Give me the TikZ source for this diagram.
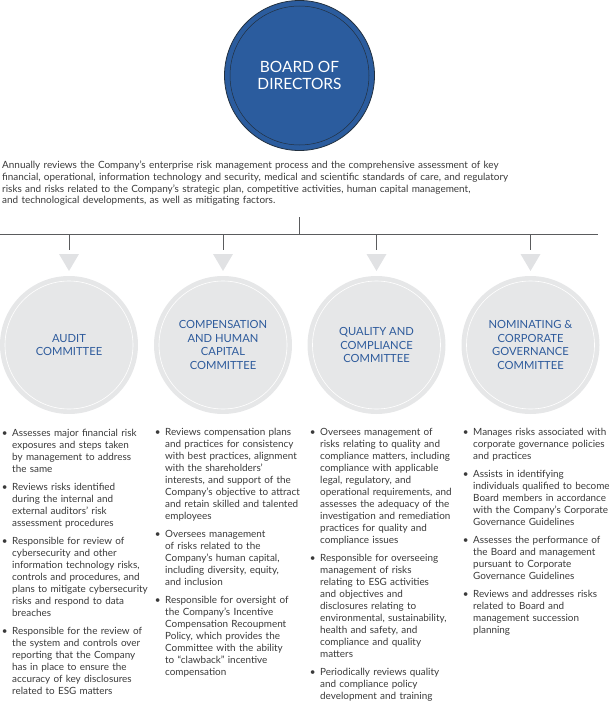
\documentclass[tikz,border=0pt]{standalone}
\usepackage{fontspec}
\setmainfont{Lato}
\definecolor{boardblue}{HTML}{2B5C9E}
\definecolor{ringdark}{HTML}{22303F}
\definecolor{linegray}{HTML}{5A5B5D}
\definecolor{commgray}{HTML}{E6E7E8}
\definecolor{trigray}{HTML}{E1E2E4}
\definecolor{commblue}{HTML}{2E5B9C}
\definecolor{bodytext}{HTML}{3A3A3A}
\newcommand\bu{\leavevmode\llap{\textbullet\hspace{4.5pt}}}
\newcommand\gap{\\[6pt]}
\tikzset{
  conn/.style={draw=linegray, line width=1pt},
  comm/.style={circle, fill=commgray, minimum size=138pt, inner sep=0pt,
    align=center, text=commblue, font=\fontsize{11.2}{13.6}\selectfont},
  tri/.style={fill=trigray, draw=none},
  bullets/.style={anchor=base west, text width=150pt, align=left, inner sep=0pt, text=bodytext,
    font=\fontsize{9.9}{12}\selectfont},
  intro/.style={anchor=base west, text width=610pt, align=left, inner sep=0pt, text=bodytext,
    font=\fontsize{9.95}{11.8}\selectfont},
}
\begin{document}
\begin{tikzpicture}[x=1pt,y=-1pt]
\useasboundingbox (0,0) rectangle (614,704);
% board
\node[circle, fill=boardblue, draw=ringdark, line width=0.8pt, minimum size=150pt, inner sep=0pt] (board) at (299.5,75.5) {};
\draw[ringdark, line width=0.5pt] (board.center) circle[radius=69.5pt];
\node[align=center, text=white, font=\fontsize{15.5}{17}\selectfont] (boardlabel) at (299.5,75.5) {BOARD OF\\DIRECTORS};
% intro paragraph
\node[intro] (intro) at (2,168.5) {Annually reviews the Company’s enterprise risk management process and the comprehensive assessment of key\\
financial, operational, information technology and security, medical and scientific standards of care, and regulatory\\
risks and risks related to the Company’s strategic plan, competitive activities, human capital management,\\
and technological developments, as well as mitigating factors.};
% connector bar
\coordinate (hl) at (0,234);
\coordinate (hr) at (598,234);
\coordinate (stubtop) at (299.5,217);
\coordinate (stubbot) at (299.5,234);
\draw[conn] (hl) -- (hr);
\draw[conn] (stubtop) -- (stubbot);
\foreach \n/\cx in {A/69,B/223,C/376.5,D/530.5}{
  \coordinate (dt\n) at (\cx,234);
  \coordinate (db\n) at (\cx,250);
  \draw[conn] (dt\n) -- (db\n);
  \fill[tri] (\cx-10,254) -- (\cx+10,254) -- (\cx,271) -- cycle;
}
% committee circles
\node[comm] (cA) at (69,345) {AUDIT\\COMMITTEE};
\node[comm] (cB) at (223,345) {COMPENSATION\\AND HUMAN\\CAPITAL\\COMMITTEE};
\node[comm] (cC) at (376.5,345) {QUALITY AND\\COMPLIANCE\\COMMITTEE};
\node[comm] (cD) at (530.5,345) {NOMINATING \&\\CORPORATE\\GOVERNANCE\\COMMITTEE};
\foreach \n in {A,B,C,D}{
  \draw[white, line width=0.6pt] (c\n.center) circle[radius=64pt];
}
% bullet columns
\node[bullets] (listA) at (12,436) {\bu Assesses major financial risk\\
exposures and steps taken\\
by management to address\\
the same\gap
\bu Reviews risks identified\\
during the internal and\\
external auditors’ risk\\
assessment procedures\gap
\bu Responsible for review of\\
cybersecurity and other\\
information technology risks,\\
controls and procedures, and\\
plans to mitigate cybersecurity\\
risks and respond to data\\
breaches\gap
\bu Responsible for the review of\\
the system and controls over\\
reporting that the Company\\
has in place to ensure the\\
accuracy of key disclosures\\
related to ESG matters};
\node[bullets] (listB) at (165,435) {\bu Reviews compensation plans\\
and practices for consistency\\
with best practices, alignment\\
with the shareholders’\\
interests, and support of the\\
Company’s objective to attract\\
and retain skilled and talented\\
employees\gap
\bu Oversees management\\
of risks related to the\\
Company’s human capital,\\
including diversity, equity,\\
and inclusion\gap
\bu Responsible for oversight of\\
the Company’s Incentive\\
Compensation Recoupment\\
Policy, which provides the\\
Committee with the ability\\
to “clawback” incentive\\
compensation};
\node[bullets] (listC) at (320,435) {\bu Oversees management of\\
risks relating to quality and\\
compliance matters, including\\
compliance with applicable\\
legal, regulatory, and\\
operational requirements, and\\
assesses the adequacy of the\\
investigation and remediation\\
practices for quality and\\
compliance issues\gap
\bu Responsible for overseeing\\
management of risks\\
relating to ESG activities\\
and objectives and\\
disclosures relating to\\
environmental, sustainability,\\
health and safety, and\\
compliance and quality\\
matters\gap
\bu Periodically reviews quality\\
and compliance policy\\
development and training};
\node[bullets] (listD) at (473,435) {\bu Manages risks associated with\\
corporate governance policies\\
and practices\gap
\bu Assists in identifying\\
individuals qualified to become\\
Board members in accordance\\
with the Company’s Corporate\\
Governance Guidelines\gap
\bu Assesses the performance of\\
the Board and management\\
pursuant to Corporate\\
Governance Guidelines\gap
\bu Reviews and addresses risks\\
related to Board and\\
management succession\\
planning};
\end{tikzpicture}
\end{document}
